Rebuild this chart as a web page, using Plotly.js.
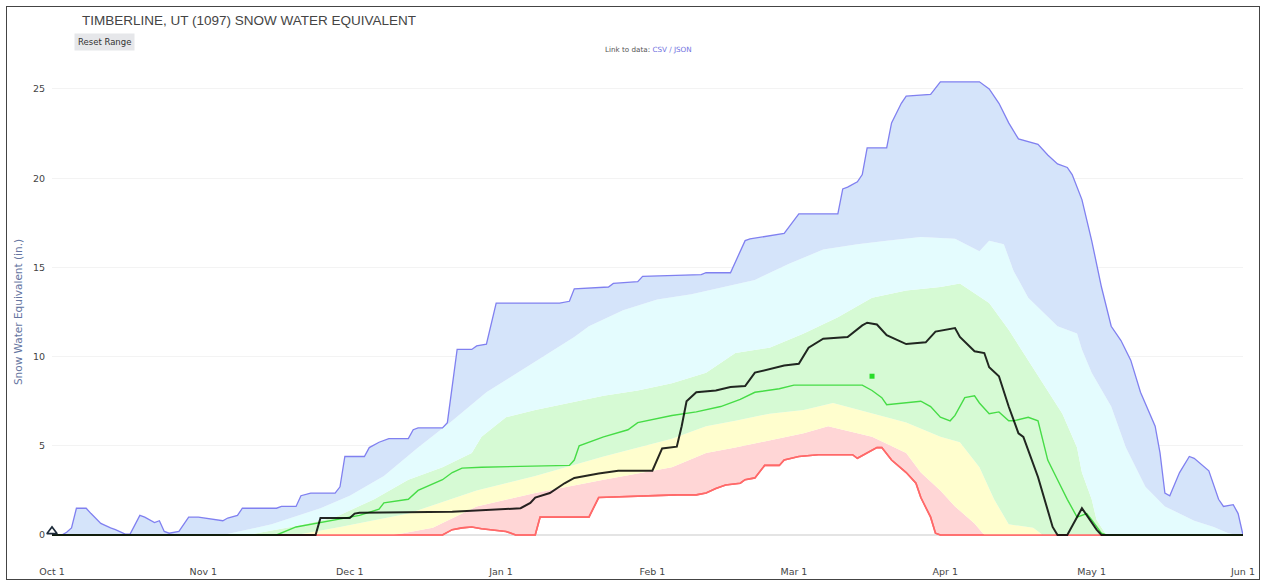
<!DOCTYPE html>
<html>
<head>
<meta charset="utf-8">
<script src="https://cdn.plot.ly/plotly-3.0.1.min.js"></script>
<style>
  html, body { margin: 0; padding: 0; background: #fff; }
  #wrap { position: relative; width: 1263px; height: 581px; overflow: hidden; }
  #chart { position: absolute; left: 0; top: 0; width: 1263px; height: 581px; }
  #frame { position: absolute; left: 6px; top: 6px; width: 1254px; height: 574px; box-sizing: border-box; border: 1px solid #444; pointer-events: none; }
</style>
</head>
<body>
<div id="wrap"><div id="chart"></div><div id="frame"></div></div>
<script>
// ---------- DATA ----------
const tickDates = ['2023-10-01','2023-11-01','2023-12-01','2024-01-01','2024-02-01','2024-03-01','2024-04-01','2024-05-01','2024-06-01'];
const tickLabels = ['Oct 1','Nov 1','Dec 1','Jan 1','Feb 1','Mar 1','Apr 1','May 1','Jun 1'];
const yTicks = [0, 5, 10, 15, 20, 25];

// Maximum
const maxDates = ['2023-10-01','2023-10-03','2023-10-04','2023-10-05','2023-10-06','2023-10-08','2023-10-09','2023-10-11','2023-10-13','2023-10-14','2023-10-16','2023-10-17','2023-10-19','2023-10-20','2023-10-22','2023-10-23','2023-10-24','2023-10-25','2023-10-27','2023-10-29','2023-10-31','2023-11-03','2023-11-05','2023-11-06','2023-11-08','2023-11-09','2023-11-16','2023-11-17','2023-11-20','2023-11-21','2023-11-23','2023-11-28','2023-11-29','2023-11-30','2023-12-04','2023-12-05','2023-12-07','2023-12-09','2023-12-13','2023-12-14','2023-12-15','2023-12-20','2023-12-21','2023-12-23','2023-12-26','2023-12-27','2023-12-29','2023-12-31','2024-01-13','2024-01-15','2024-01-16','2024-01-23','2024-01-24','2024-01-29','2024-01-30','2024-02-11','2024-02-12','2024-02-17','2024-02-20','2024-02-21','2024-02-28','2024-03-02','2024-03-10','2024-03-11','2024-03-12','2024-03-14','2024-03-15','2024-03-16','2024-03-20','2024-03-21','2024-03-23','2024-03-24','2024-03-29','2024-03-31','2024-04-08','2024-04-10','2024-04-12','2024-04-14','2024-04-16','2024-04-20','2024-04-22','2024-04-24','2024-04-26','2024-04-27','2024-04-29','2024-05-01','2024-05-03','2024-05-05','2024-05-07','2024-05-09','2024-05-11','2024-05-14','2024-05-15','2024-05-16','2024-05-17','2024-05-19','2024-05-21','2024-05-22','2024-05-24','2024-05-25','2024-05-27','2024-05-28','2024-05-30','2024-05-31','2024-06-01'];
const maxVals = [0,0,0.15,0.4,1.5,1.5,1.2,0.65,0.4,0.3,0.05,0.05,1.1,1.0,0.7,0.8,0.2,0.1,0.2,1.0,1.0,0.9,0.8,0.95,1.1,1.5,1.5,1.6,1.6,2.2,2.35,2.35,2.7,4.4,4.4,4.9,5.2,5.4,5.4,5.9,6.0,6.0,6.3,10.4,10.4,10.6,10.7,13.0,13.0,13.1,13.8,13.9,14.1,14.2,14.5,14.6,14.7,14.7,16.5,16.6,16.9,18.0,18.0,19.4,19.5,19.8,20.2,21.7,21.7,23.1,24.2,24.6,24.7,25.4,25.4,25.0,24.2,23.1,22.2,21.9,21.3,20.8,20.6,20.2,18.8,16.5,13.9,11.7,10.9,9.8,8.0,6.1,4.6,2.35,2.2,3.5,4.4,4.3,3.8,3.6,2.0,1.6,1.7,1.2,0];

// 90th percentile
const p90Dates = ['2023-10-01','2023-11-05','2023-11-15','2023-11-25','2023-12-01','2023-12-08','2023-12-15','2023-12-22','2023-12-29','2024-01-05','2024-01-12','2024-01-16','2024-01-19','2024-01-26','2024-02-02','2024-02-09','2024-02-22','2024-02-29','2024-03-07','2024-03-14','2024-03-20','2024-03-27','2024-04-03','2024-04-08','2024-04-10','2024-04-13','2024-04-15','2024-04-18','2024-04-24','2024-04-28','2024-04-29','2024-05-01','2024-05-05','2024-05-08','2024-05-12','2024-05-16','2024-05-22','2024-05-26','2024-05-29','2024-05-31','2024-06-01'];
const p90Vals = [0,0,0.6,1.5,2.2,3.3,4.9,6.4,8.0,9.2,10.4,11.1,11.7,12.6,13.2,13.5,14.3,15.2,16.0,16.3,16.5,16.7,16.6,15.9,16.5,16.3,14.8,13.3,11.7,11.3,10.4,9.1,7.2,4.9,2.7,1.6,0.8,0.45,0.1,0,0];

// 70th percentile
const p70Dates = ['2023-10-01','2023-11-10','2023-11-20','2023-11-28','2023-12-06','2023-12-13','2023-12-20','2023-12-26','2023-12-28','2024-01-02','2024-01-08','2024-01-15','2024-01-22','2024-01-29','2024-02-05','2024-02-12','2024-02-18','2024-02-25','2024-03-03','2024-03-10','2024-03-17','2024-03-24','2024-03-31','2024-04-04','2024-04-10','2024-04-14','2024-04-18','2024-04-21','2024-04-25','2024-04-28','2024-04-29','2024-05-01','2024-05-02','2024-05-04','2024-06-01'];
const p70Vals = [0,0,0.5,1.0,2.0,3.1,3.8,4.6,5.5,6.6,7.0,7.4,7.8,8.1,8.5,9.1,10.2,10.5,11.3,12.2,13.3,13.7,13.9,14.1,13.0,11.5,9.8,8.5,6.8,4.9,3.5,2.0,0.85,0,0];

// 30th percentile
const p30Dates = ['2023-10-01','2023-11-20','2023-11-29','2023-12-13','2023-12-27','2024-01-08','2024-01-22','2024-02-05','2024-02-12','2024-02-18','2024-02-25','2024-03-03','2024-03-09','2024-03-17','2024-03-24','2024-03-31','2024-04-04','2024-04-08','2024-04-11','2024-04-14','2024-04-19','2024-04-21','2024-06-01'];
const p30Vals = [0,0,0.45,1.2,2.5,3.3,4.4,5.4,6.1,6.4,6.8,7.0,7.4,6.8,6.3,5.5,5.2,3.8,2.0,0.6,0.4,0,0];

// 10th percentile
const p10Dates = ['2023-10-01','2023-12-10','2023-12-18','2023-12-27','2024-01-08','2024-01-22','2024-02-05','2024-02-12','2024-02-18','2024-02-25','2024-03-03','2024-03-08','2024-03-17','2024-03-24','2024-03-27','2024-03-31','2024-04-03','2024-04-07','2024-04-09','2024-06-01'];
const p10Vals = [0,0,0.4,1.6,2.35,3.1,3.8,4.6,4.9,5.3,5.7,6.1,5.5,4.6,3.5,2.5,1.6,0.65,0,0];

// Minimum
const minDates = ['2023-10-01','2023-12-20','2023-12-22','2023-12-24','2023-12-26','2023-12-28','2024-01-02','2024-01-04','2024-01-08','2024-01-09','2024-01-19','2024-01-21','2024-02-06','2024-02-10','2024-02-12','2024-02-14','2024-02-16','2024-02-19','2024-02-20','2024-02-22','2024-02-24','2024-02-27','2024-02-28','2024-03-02','2024-03-06','2024-03-13','2024-03-14','2024-03-16','2024-03-18','2024-03-19','2024-03-21','2024-03-24','2024-03-26','2024-03-27','2024-03-29','2024-03-30','2024-03-31','2024-06-01'];
const minVals = [0,0,0.3,0.4,0.45,0.35,0.2,0,0,1.0,1.0,2.1,2.25,2.25,2.35,2.6,2.8,2.9,3.1,3.2,3.9,3.9,4.2,4.4,4.5,4.5,4.3,4.6,4.9,4.9,4.2,3.5,2.9,2.1,1.0,0.1,0,0];

// Median
const medDates = ['2023-10-01','2023-11-16','2023-11-20','2023-11-24','2023-11-29','2023-12-03','2023-12-07','2023-12-08','2023-12-13','2023-12-15','2023-12-20','2023-12-22','2023-12-24','2023-12-28','2024-01-15','2024-01-16','2024-01-17','2024-01-22','2024-01-27','2024-01-29','2024-02-05','2024-02-10','2024-02-15','2024-02-19','2024-02-22','2024-02-27','2024-03-01','2024-03-15','2024-03-17','2024-03-19','2024-03-20','2024-03-27','2024-03-29','2024-03-31','2024-04-02','2024-04-03','2024-04-05','2024-04-07','2024-04-08','2024-04-10','2024-04-12','2024-04-14','2024-04-15','2024-04-18','2024-04-20','2024-04-22','2024-04-24','2024-04-26','2024-04-28','2024-04-30','2024-05-01','2024-05-03','2024-05-04','2024-06-01'];
const medVals = [0,0,0.45,0.65,0.9,1.1,1.45,1.8,2.0,2.5,3.1,3.5,3.75,3.8,3.9,4.2,5.0,5.5,5.9,6.3,6.7,6.9,7.2,7.6,8.0,8.2,8.4,8.4,8.1,7.7,7.3,7.5,7.2,6.6,6.4,6.7,7.7,7.8,7.4,6.8,6.9,6.4,6.4,6.6,6.4,4.2,3.1,2.0,1.0,1.2,0.85,0.1,0,0];

// Current water year
const curDates = ['2023-10-01','2023-11-24','2023-11-25','2023-12-01','2023-12-02','2023-12-03','2023-12-22','2023-12-26','2024-01-05','2024-01-07','2024-01-08','2024-01-11','2024-01-14','2024-01-16','2024-01-21','2024-01-25','2024-02-01','2024-02-03','2024-02-06','2024-02-07','2024-02-08','2024-02-10','2024-02-14','2024-02-17','2024-02-20','2024-02-22','2024-02-26','2024-02-28','2024-03-02','2024-03-04','2024-03-07','2024-03-12','2024-03-15','2024-03-16','2024-03-18','2024-03-20','2024-03-24','2024-03-28','2024-03-30','2024-04-03','2024-04-04','2024-04-07','2024-04-09','2024-04-10','2024-04-12','2024-04-14','2024-04-16','2024-04-17','2024-04-20','2024-04-21','2024-04-23','2024-04-24','2024-04-26','2024-04-29','2024-04-30','2024-05-02','2024-05-03','2024-06-01'];
const curVals = [0,0,0.95,0.95,1.2,1.25,1.3,1.35,1.5,1.8,2.1,2.35,2.9,3.2,3.45,3.6,3.6,4.85,4.95,6.1,7.5,8.0,8.1,8.3,8.35,9.1,9.35,9.5,9.6,10.5,11.0,11.1,11.75,11.9,11.8,11.2,10.7,10.8,11.4,11.6,11.1,10.3,10.2,9.4,8.9,7.2,5.7,5.5,3.25,2.35,0.45,0,0,1.5,1.1,0.3,0,0];

// Markers
const medPeakDate = ['2024-03-17'];
const medPeakVal = [8.9];
const startDate = ['2023-10-01'];
const startVal = [0.2];

// ---------- TRACES ----------
const line0 = {width: 0};
const traces = [
  {x: minDates, y: minVals, mode: 'lines', line: {color: 'rgb(255,105,105)', width: 1.6}, name: 'Min', hoverinfo: 'skip'},
  {x: p10Dates, y: p10Vals, mode: 'lines', line: line0, fill: 'tonexty', fillcolor: 'rgb(255,214,214)', name: '10%', hoverinfo: 'skip'},
  {x: p30Dates, y: p30Vals, mode: 'lines', line: line0, fill: 'tonexty', fillcolor: 'rgb(255,254,206)', name: '30%', hoverinfo: 'skip'},
  {x: p70Dates, y: p70Vals, mode: 'lines', line: line0, fill: 'tonexty', fillcolor: 'rgb(214,250,212)', name: '70%', hoverinfo: 'skip'},
  {x: p90Dates, y: p90Vals, mode: 'lines', line: line0, fill: 'tonexty', fillcolor: 'rgb(228,252,254)', name: '90%', hoverinfo: 'skip'},
  {x: maxDates, y: maxVals, mode: 'lines', line: {color: 'rgb(128,128,240)', width: 1.3}, fill: 'tonexty', fillcolor: 'rgb(213,228,250)', name: 'Max', hoverinfo: 'skip'},
  {x: minDates, y: minVals, mode: 'lines', line: {color: 'rgb(255,105,105)', width: 1.6}, name: 'Min line', hoverinfo: 'skip'},
  {x: medDates, y: medVals, mode: 'lines', line: {color: 'rgb(70,220,70)', width: 1.4}, name: 'Median', hoverinfo: 'skip'},
  {x: curDates, y: curVals, mode: 'lines', line: {color: 'rgba(0,0,0,0.85)', width: 2}, name: 'Current', hoverinfo: 'skip'},
  {x: medPeakDate, y: medPeakVal, mode: 'markers', marker: {symbol: 'square', size: 5, color: 'rgb(40,220,40)'}, name: 'Median peak', hoverinfo: 'skip'},
  {x: startDate, y: startVal, mode: 'markers', cliponaxis: false, marker: {symbol: 'triangle-up-open', size: 9, color: '#1d2b3a', line: {width: 1.6, color: '#1d2b3a'}}, name: 'Start', hoverinfo: 'skip'}
];

const layout = {
  width: 1263, height: 581,
  margin: {l: 52, r: 20, t: 60, b: 17, pad: 0},
  paper_bgcolor: '#ffffff', plot_bgcolor: '#ffffff',
  showlegend: false,
  font: {family: 'DejaVu Sans, sans-serif', size: 10, color: '#444'},
  title: {
    text: 'TIMBERLINE, UT (1097) SNOW WATER EQUIVALENT',
    font: {family: 'Liberation Sans, Arial, sans-serif', size: 13.5, color: '#444'},
    x: 82 / 1263, xref: 'container', xanchor: 'left',
    y: 1 - 20 / 581, yref: 'container', yanchor: 'middle'
  },
  xaxis: {
    type: 'date',
    range: [tickDates[0], tickDates[tickDates.length - 1]],
    tickvals: tickDates, ticktext: tickLabels,
    showgrid: false, zeroline: false, showline: false, ticks: '',
    tickfont: {family: 'DejaVu Sans, sans-serif', size: 9.5, color: '#444'},
    fixedrange: true
  },
  yaxis: {
    range: [-1.626, 26.625],
    tickvals: yTicks,
    showgrid: true, gridcolor: '#f3f3f3', gridwidth: 1,
    zeroline: true, zerolinecolor: '#e4e4e4', zerolinewidth: 2,
    showline: false, ticks: '',
    ticklabelstandoff: 6,
    tickfont: {family: 'DejaVu Sans, sans-serif', size: 9.5, color: '#444'},
    title: {text: 'Snow Water Equivalent (in.)', font: {family: 'DejaVu Sans, sans-serif', size: 10.5, color: '#6474a0'}, standoff: 8},
    fixedrange: true
  },
  annotations: [
    {text: 'Reset Range', xref: 'paper', yref: 'paper', x: (104 - 52) / 1191, y: (564 - 42) / 504,
     xanchor: 'center', yanchor: 'middle', showarrow: false,
     font: {family: 'DejaVu Sans, sans-serif', size: 8.5, color: '#333'},
     bgcolor: '#e6e7ea', borderpad: 3},
    {text: 'Link to data: <span style="color:#6f6fe0">CSV / JSON</span>', xref: 'paper', yref: 'paper',
     x: (648 - 52) / 1191, y: (564 - 49) / 504, xanchor: 'center', yanchor: 'middle', showarrow: false,
     font: {family: 'DejaVu Sans, sans-serif', size: 7.2, color: '#555'}}
  ]
};

Plotly.newPlot('chart', traces, layout, {displayModeBar: false, staticPlot: true});
</script>
</body>
</html>
